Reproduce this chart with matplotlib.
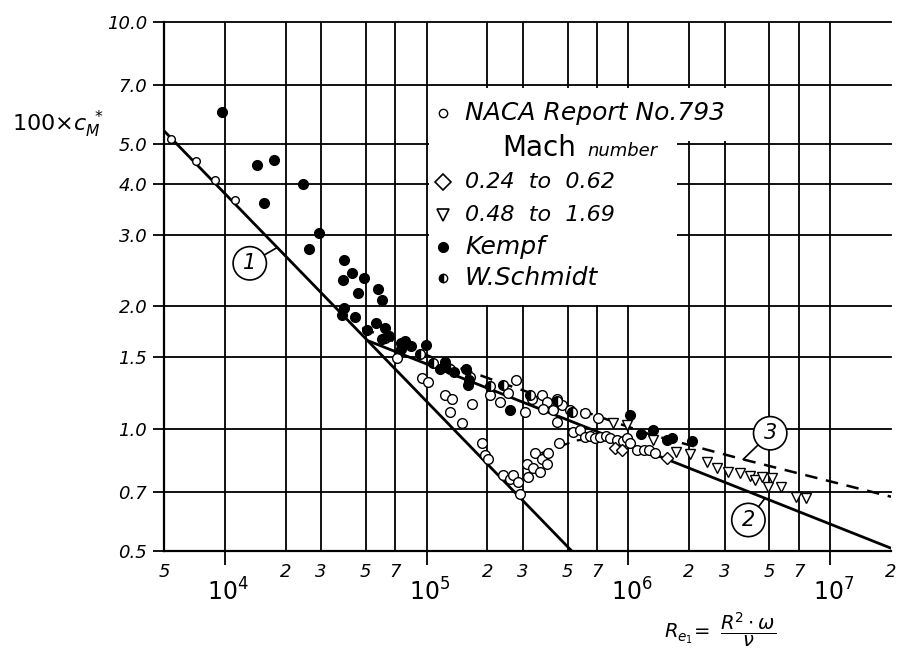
import numpy as np
import matplotlib
matplotlib.use('Agg')
import matplotlib.pyplot as plt
from matplotlib.patches import Polygon
from matplotlib.ticker import NullLocator
from matplotlib.transforms import blended_transform_factory

plt.rcParams['font.family'] = 'DejaVu Sans'
plt.rcParams['mathtext.fontset'] = 'dejavusans'

# ---- Werte ----
# Gerade 1 (laminar), Gerade 2 (turbulent), Kurve 3 (gestrichelt)
line1_x = [5e3, 5.24e5]
line1_y = [5.4, 0.5]
line2_x = [5.2e4, 2e7]
line2_y = [1.64, 0.508]
curve3_x = [4.8e4, 1.2e5, 2.3e5, 6.1e5, 1.3e6, 3.7e6, 2e7]
curve3_y = [1.77, 1.46, 1.30, 1.10, 0.965, 0.84, 0.68]
trans_x = [3.7e5, 5.5e5, 8.5e5]
trans_y = [0.87, 0.935, 0.955]

# NACA Report No. 793 (offene Kreise)
naca_lam_x = [5.4e3, 7.2e3, 8.9e3, 1.12e4]
naca_lam_y = [5.15, 4.55, 4.08, 3.64]
naca_x = [7.1e4, 9.5e4, 1.02e5, 1.23e5, 1.33e5, 1.31e5, 1.49e5, 1.67e5,
          1.88e5, 1.95e5, 2.02e5, 2.39e5, 2.59e5, 2.68e5, 2.84e5, 2.9e5,
          3.13e5, 3.18e5, 3.37e5, 3.45e5, 3.65e5, 3.72e5, 4.0e5, 3.94e5, 4.53e5,
          2.06e5, 2.3e5, 2.77e5, 2.54e5, 3.08e5, 3.32e5, 3.72e5, 3.94e5,
          4.42e5, 4.68e5, 4.25e5, 3.79e5, 5.14e5, 6.1e5, 7.1e5, 4.42e5,
          5.3e5, 5.75e5, 6.1e5, 6.45e5, 6.8e5, 7.2e5, 7.7e5, 8.1e5, 8.8e5,
          9.4e5, 9.8e5, 1.02e6, 1.1e6, 1.19e6, 1.26e6, 1.36e6]
naca_y = [1.49, 1.33, 1.30, 1.21, 1.18, 1.10, 1.03, 1.15,
          0.92, 0.86, 0.84, 0.77, 0.75, 0.77, 0.74, 0.69,
          0.82, 0.76, 0.80, 0.87, 0.78, 0.84, 0.87, 0.82, 0.92,
          1.21, 1.16, 1.32, 1.22, 1.10, 1.18, 1.21, 1.16,
          1.18, 1.14, 1.11, 1.12, 1.11, 1.09, 1.06, 1.04,
          0.98, 0.99, 0.955, 0.96, 0.95, 0.955, 0.96, 0.95, 0.94,
          0.93, 0.95, 0.92, 0.885, 0.885, 0.885, 0.87]
# Machzahl 0.24 bis 0.62 (Rauten)
dia_x = [8.6e5, 9.3e5, 1.55e6]
dia_y = [0.895, 0.885, 0.845]
# Machzahl 0.48 bis 1.69 (Dreiecke)
tri_x = [8.4e5, 9.8e5, 1.33e6, 1.72e6, 2.02e6, 2.44e6, 2.74e6, 3.13e6, 3.57e6,
         4.0e6, 4.24e6, 4.58e6, 5.13e6, 4.94e6, 5.69e6, 6.78e6, 7.6e6]
tri_y = [1.03, 1.02, 0.94, 0.877, 0.866, 0.83, 0.80, 0.78, 0.776,
         0.764, 0.748, 0.759, 0.755, 0.72, 0.72, 0.68, 0.675]
# Kempf (gefuellte Kreise)
kempf_x = [9.7e3, 1.45e4, 1.75e4, 2.43e4, 1.57e4, 2.94e4, 2.6e4,
           3.9e4, 4.29e4, 3.87e4, 4.9e4, 4.59e4, 5.73e4, 6.04e4, 3.9e4, 3.8e4,
           4.42e4, 5.05e4, 6.2e4, 6.0e4, 6.5e4, 5.6e4, 7.8e4, 8.4e4, 9.9e4,
           7.5e4, 1.23e5, 1.16e5, 1.36e5, 1.57e5, 1.63e5, 1.61e5, 2.6e5,
           1.02e6, 1.16e6, 1.33e6, 1.55e6, 1.64e6, 2.06e6]
kempf_y = [6.0, 4.45, 4.58, 4.0, 3.58, 3.03, 2.76,
           2.6, 2.42, 2.32, 2.35, 2.15, 2.21, 2.07, 1.98, 1.90,
           1.88, 1.75, 1.77, 1.66, 1.69, 1.82, 1.64, 1.60, 1.61,
           1.57, 1.46, 1.40, 1.38, 1.40, 1.32, 1.28, 1.11,
           1.08, 0.97, 0.99, 0.94, 0.95, 0.93]
# W. Schmidt (halb gefuellte Kreise)
schmidt_x = [6.2e4, 7.5e4, 9.3e4, 1.08e5, 1.31e5, 1.64e5, 2.06e5, 2.39e5,
             3.26e5, 4.42e5, 5.24e5]
schmidt_y = [1.67, 1.62, 1.53, 1.45, 1.40, 1.34, 1.27, 1.28,
             1.21, 1.17, 1.10]

# Achsen / Beschriftungen
x_grid = [1e4, 2e4, 3e4, 5e4, 7e4, 1e5, 2e5, 3e5, 5e5, 7e5,
          1e6, 2e6, 3e6, 5e6, 7e6, 1e7]
y_ticks = [0.5, 0.7, 1.0, 1.5, 2.0, 3.0, 4.0, 5.0, 7.0, 10.0]
minor_lab_x = [5e3, 2e4, 3e4, 5e4, 7e4, 2e5, 3e5, 5e5, 7e5,
               2e6, 3e6, 5e6, 7e6, 2e7]
minor_lab = ['5', '2', '3', '5', '7', '2', '3', '5', '7',
             '2', '3', '5', '7', '2']
decade_x = [1e4, 1e5, 1e6, 1e7]
decade_lab = [r'$\mathit{10^{4}}$', r'$\mathit{10^{5}}$',
              r'$\mathit{10^{6}}$', r'$\mathit{10^{7}}$']


def on_curve(xs, ys, x):
    return 10 ** np.interp(np.log10(x), np.log10(xs), np.log10(ys))


fig = plt.figure(figsize=(8.97, 6.55), dpi=100)
ax = fig.add_axes([164 / 897, 1 - 551 / 655, 727 / 897, 529 / 655])
ax.set_xscale('log')
ax.set_yscale('log')
ax.set_xlim(5e3, 2e7)
ax.set_ylim(0.5, 10)

# Gitter
for v in x_grid:
    ax.axvline(v, color='k', lw=1.3, zorder=1)
for v in y_ticks[1:]:
    ax.axhline(v, color='k', lw=1.3, zorder=1, clip_on=False)

for s in ['top', 'right']:
    ax.spines[s].set_visible(False)
for s in ['left', 'bottom']:
    ax.spines[s].set_linewidth(1.6)

ax.set_yticks(y_ticks)
ax.set_yticklabels(['%.1f' % v for v in y_ticks])
ax.yaxis.set_minor_locator(NullLocator())
ax.tick_params(axis='y', direction='out', length=8, width=1.3, pad=4, labelsize=13)
for lbl in ax.get_yticklabels():
    lbl.set_style('italic')
ax.set_xticks(decade_x)
ax.set_xticklabels([])
ax.xaxis.set_minor_locator(NullLocator())
ax.tick_params(axis='x', direction='out', length=10, width=1.3)

tr = blended_transform_factory(ax.transData, ax.transAxes)
for x, t in zip(minor_lab_x, minor_lab):
    ax.text(x, -0.022, t, transform=tr, ha='center', va='top', fontsize=13,
            style='italic', clip_on=False)
for x, t in zip(decade_x, decade_lab):
    ax.text(x * 0.82, -0.052, t, transform=tr, ha='left', va='top', fontsize=17,
            clip_on=False)

# Legendenfeld (weiss hinterlegt)
box = Polygon([(0.3645, 0.875), (0.7923, 0.875), (0.7923, 0.775),
               (0.7056, 0.775), (0.7056, 0.465), (0.3645, 0.465)],
              closed=True, transform=ax.transAxes, facecolor='white',
              edgecolor='none', zorder=2)
ax.add_patch(box)

# Linien
ax.plot(line1_x, line1_y, color='k', lw=2.0, zorder=3)
ax.plot(line2_x, line2_y, color='k', lw=2.0, zorder=3)
ax.plot(curve3_x, curve3_y, color='k', lw=1.8, ls=(0, (5, 3.5)), zorder=3)
ax.plot(trans_x, trans_y, color='k', lw=1.6, ls=(0, (5, 3.5)), zorder=3)

# Messpunkte
ax.plot(naca_lam_x, naca_lam_y, 'o', ms=5.5, mfc='white', mec='k', mew=1.0, zorder=4)
ax.plot(naca_x, naca_y, 'o', ms=7, mfc='white', mec='k', mew=1.0, zorder=4)
ax.plot(dia_x, dia_y, 'D', ms=6, mfc='white', mec='k', mew=1.0, zorder=4)
ax.plot(tri_x, tri_y, 'v', ms=7.5, mfc='white', mec='k', mew=1.0, zorder=4)
ax.plot(schmidt_x, schmidt_y, 'o', ms=7, fillstyle='left', mfc='k',
        mfcalt='white', mec='k', mew=1.0, zorder=5)
ax.plot(kempf_x, kempf_y, 'o', ms=7, mfc='k', mec='k', zorder=5)

# Legende
leg_mx = 0.3838
leg_tx = 0.414
rows = [0.828, 0.762, 0.698, 0.635, 0.575, 0.516]
ax.plot(leg_mx, rows[0], 'o', ms=6, mfc='white', mec='k', mew=1.0,
        transform=ax.transAxes, clip_on=False, zorder=6)
ax.plot(leg_mx, rows[2], 'D', ms=8, mfc='white', mec='k', mew=1.2,
        transform=ax.transAxes, clip_on=False, zorder=6)
ax.plot(leg_mx, rows[3], 'v', ms=8, mfc='white', mec='k', mew=1.2,
        transform=ax.transAxes, clip_on=False, zorder=6)
ax.plot(leg_mx, rows[4], 'o', ms=7, mfc='k', mec='k',
        transform=ax.transAxes, clip_on=False, zorder=6)
ax.plot(leg_mx, rows[5], 'o', ms=6, fillstyle='left', mfc='k', mfcalt='white',
        mec='k', mew=1.0, transform=ax.transAxes, clip_on=False, zorder=6)
word_kw = dict(transform=ax.transAxes, va='center', ha='left', style='italic',
               fontsize=18, zorder=6)
num_kw = dict(word_kw, fontsize=16)
ax.text(leg_tx, rows[0], 'NACA Report No.793', **word_kw)
ax.text(0.465, rows[1], 'Mach', transform=ax.transAxes, va='center', ha='left',
        fontsize=20, zorder=6)
ax.text(0.582, rows[1] - 0.005, 'number', transform=ax.transAxes, va='center',
        ha='left', fontsize=13, style='italic', zorder=6)
ax.text(leg_tx, rows[2], '0.24  to  0.62', **num_kw)
ax.text(leg_tx, rows[3], '0.48  to  1.69', **num_kw)
ax.text(leg_tx, rows[4], 'Kempf', **word_kw)
ax.text(leg_tx, rows[5], 'W.Schmidt', **word_kw)

# Nummern im Kreis
circ = dict(boxstyle='circle,pad=0.32', fc='white', ec='k', lw=1.2)
arr = dict(arrowstyle='-', lw=1.2, color='k', shrinkA=0, shrinkB=0)
ax.annotate('1', xy=(1.82e4, on_curve(line1_x, line1_y, 1.82e4)),
            xytext=(1.33e4, 2.55), ha='center', va='center', fontsize=15,
            style='italic', bbox=circ, arrowprops=arr, zorder=7)
ax.annotate('2', xy=(4.75e6, on_curve(line2_x, line2_y, 4.75e6)),
            xytext=(3.93e6, 0.596), ha='center', va='center', fontsize=15,
            style='italic', bbox=circ, arrowprops=arr, zorder=7)
ax.annotate('3', xy=(3.7e6, on_curve(curve3_x, curve3_y, 3.7e6)),
            xytext=(5.04e6, 0.974), ha='center', va='center', fontsize=15,
            style='italic', bbox=circ, arrowprops=arr, zorder=7)

# Achsentitel
fig.text(12 / 897, 1 - 124 / 655, r'$\mathit{100{\times}c_M^{\ *}}$', fontsize=16,
         ha='left', va='center')
fig.text(720 / 897, 1 - 630 / 655, r'$R_{e_1}\!=\ \dfrac{R^{2}\cdot\omega}{\nu}$',
         fontsize=14, ha='center', va='center')

fig.savefig('out.png', dpi=100)
